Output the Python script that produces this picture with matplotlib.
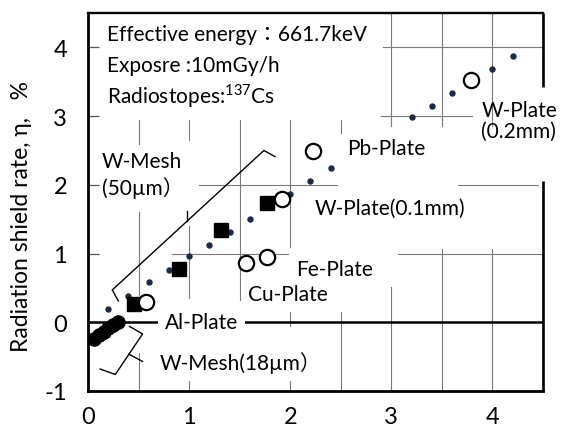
import matplotlib
matplotlib.use("Agg")
import matplotlib.pyplot as plt

plt.rcParams['font.family'] = ['Lato', 'Noto Sans CJK JP', 'DejaVu Sans']
plt.rcParams['mathtext.fontset'] = 'custom'
plt.rcParams['mathtext.rm'] = 'Lato'

# ---- data ----
mesh50_x = [0.2, 0.4, 0.6, 0.8, 1.0, 1.2, 1.4, 1.6, 2.0, 2.2, 2.4, 3.2, 3.4, 3.6, 4.0, 4.2]
mesh50_y = [0.20, 0.38, 0.58, 0.76, 0.96, 1.13, 1.32, 1.50, 1.86, 2.05, 2.24, 2.98, 3.15, 3.33, 3.69, 3.88]

square_x = [0.45, 0.90, 1.32, 1.77]
square_y = [0.26, 0.78, 1.34, 1.73]

plate_names = ['Al-Plate', 'Cu-Plate', 'Fe-Plate', 'W-Plate(0.1mm)', 'Pb-Plate', 'W-Plate\n(0.2mm)']
plate_x = [0.57, 1.56, 1.77, 1.92, 2.23, 3.79]
plate_y = [0.29, 0.86, 0.95, 1.80, 2.49, 3.53]

mesh18_x = [0.06, 0.11, 0.16, 0.20, 0.25, 0.30]
mesh18_y = [-0.25, -0.19, -0.14, -0.09, -0.04, 0.00]

x_ticks = [0, 1, 2, 3, 4]
y_ticks = [-1, 0, 1, 2, 3, 4]

info_lines = ['Effective energy：661.7keV', 'Exposre :10mGy/h', 'Radiostopes:$^{137}$Cs']
y_label = 'Radiation shield rate, η,   %'

# ---- figure ----
fig = plt.figure(figsize=(5.66, 4.27), dpi=100)
ax = fig.add_axes([88/566, 35/427, 455/566, 378/427])
ax.set_xlim(0, 4.5)
ax.set_ylim(-1, 4.5)

# broken grid (as in the scanned original)
gcol = '#7a7a7a'
vsegs = [(0.5, 2.6, 2.95), (0.5, 0.4, 1.6), (0.5, -1, -0.45),
         (1.0, 2.65, 2.95), (1.0, 0.35, 1.4), (1.0, -1, -0.85),
         (1.5, 0.33, 2.95),
         (2.0, 1.1, 2.95), (2.0, -0.05, 0.15), (2.0, -1, -0.85),
         (2.5, 2.75, 2.95), (2.5, -1, 0.15),
         (3.0, 2.85, 4.5), (3.0, -1, 0.52),
         (3.5, 2.85, 4.5), (3.5, -1, 1.06),
         (4.0, 2.85, 4.5), (4.0, -1, 1.06)]
hsegs = [(1, 0.83, 1.98), (1, 3.07, 4.5),
         (2, 1.1, 2.46), (2, 3.66, 4.45),
         (3, 2.9, 3.8), (4, 2.92, 4.5)]
for x, a, b in vsegs:
    ax.plot([x, x], [a, b], color=gcol, lw=0.8, zorder=1)
for y, a, b in hsegs:
    ax.plot([a, b], [y, y], color=gcol, lw=0.8, zorder=1)

ax.axhline(0, color='black', lw=1.8, zorder=2)

# brackets
ax.plot([0.30, 0.24, 1.74, 1.85], [0.31, 0.47, 2.50, 2.41], color='black', lw=1.0, zorder=2)
ax.plot([0.98, 0.98], [1.48, 1.62], color='black', lw=1.0, zorder=2)
ax.plot([0.41, 0.54, 0.27, 0.12], [-0.06, -0.17, -0.76, -0.68], color='black', lw=1.0, zorder=2)
ax.plot([0.405, 0.54], [-0.465, -0.57], color='black', lw=1.0, zorder=2)

# data
ax.plot(mesh50_x, mesh50_y, 'o', ms=3.6, color='#1c2a4a', zorder=4, ls='none')
ax.plot(square_x, square_y, 's', ms=10, color='black', zorder=5, ls='none')
ax.plot(plate_x, plate_y, 'o', ms=11, mfc='white', mec='black', mew=1.6, zorder=6, ls='none')
ax.plot(mesh18_x, mesh18_y, 'o', ms=9.5, color='black', zorder=5, ls='none')

# texts
fs = 15
for txt, yy in zip(info_lines, [4.19, 3.75, 3.31]):
    ax.text(0.19, yy, txt, fontsize=fs, ha='left', va='center', zorder=3)
ax.text(0.14, 2.15, 'W-Mesh\n(50µm）', fontsize=fs, ha='left', va='center', linespacing=1.25, zorder=3)
ax.text(2.56, 2.53, plate_names[4], fontsize=fs, ha='left', va='center', zorder=3)
ax.text(3.89, 2.94, plate_names[5], fontsize=fs, ha='left', va='center', linespacing=1.05, zorder=3,
        clip_on=False)
ax.text(2.24, 1.67, plate_names[3], fontsize=fs, ha='left', va='center', zorder=3)
ax.text(2.06, 0.78, plate_names[2], fontsize=fs, ha='left', va='center', zorder=3)
ax.text(1.58, 0.41, plate_names[1], fontsize=fs, ha='left', va='center', zorder=3)
ax.text(0.76, 0.0, plate_names[0], fontsize=fs, ha='left', va='center', zorder=3,
        bbox=dict(facecolor='white', edgecolor='none', pad=5))
ax.text(0.71, -0.58, 'W-Mesh(18µm）', fontsize=fs, ha='left', va='center', zorder=3)

# axes styling
ax.set_xticks(x_ticks)
ax.set_xticklabels([str(v) for v in x_ticks])
ax.set_yticks(y_ticks)
ax.set_yticklabels([str(v) for v in y_ticks])
ax.tick_params(axis='x', length=0, pad=11, labelsize=17)
ax.tick_params(axis='y', direction='in', length=8, width=0.9, color='#555555', pad=15, labelsize=17)
for side in ['left', 'bottom']:
    ax.spines[side].set_linewidth(2.0)
ax.spines['top'].set_linewidth(1.7)
# right frame line is interrupted by the "W-Plate (0.2mm)" label
ax.spines['right'].set_visible(False)
ax.plot([4.5, 4.5], [4.5, 3.42], color='black', lw=1.9, zorder=2.5, clip_on=False, solid_capstyle='butt')
ax.plot([4.5, 4.5], [2.05, -1], color='black', lw=1.9, zorder=2.5, clip_on=False, solid_capstyle='butt')

fig.text(22/566, 1 - 217/427, y_label, rotation=90, fontsize=16.5, ha='center', va='center')

fig.savefig('out.png', dpi=100)
